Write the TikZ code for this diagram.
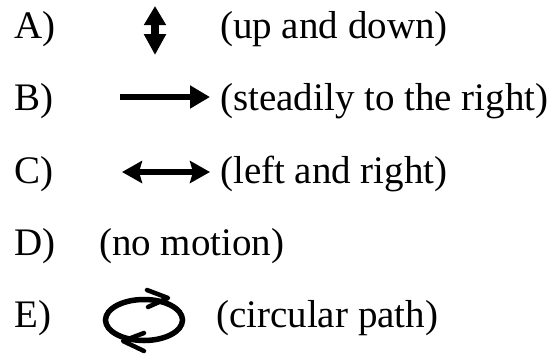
\documentclass[tikz,border=0pt]{standalone}
\usepackage{fontspec}
\setmainfont{Liberation Serif}
\usetikzlibrary{arrows.meta}
\begin{document}
\begin{tikzpicture}[x=1pt,y=-1pt,
  lbl/.style={anchor=base west,inner sep=0pt,font=\fontsize{39}{47}\selectfont},
  bigtip/.style={-{Triangle[length=20pt,width=22pt]}},
  motion/.style={line width=6.5pt},
  chev/.style={line width=4.5pt,line cap=round,line join=round}]
\useasboundingbox (0,0) rectangle (554,354);
% option letters
\node[lbl] (la) at (14,38) {A)};
\node[lbl] (lb) at (14,110) {B)};
\node[lbl] (lc) at (14,183) {C)};
\node[lbl] (ld) at (14,255) {D)};
\node[lbl] (le) at (14,327) {E)};
% descriptions
\node[lbl] (ta) at (220,38) {(up and down)};
\node[lbl] (tb) at (220,110) {(steadily to the right)};
\node[lbl] (tc) at (220,183) {(left and right)};
\node[lbl] (td) at (99,255) {(no motion)};
\node[lbl] (te) at (216,327) {(circular path)};
% A: up and down
\coordinate (au) at (155,6);
\coordinate (ad) at (155,55);
\draw[motion,line width=7.5pt,{Triangle[length=19pt,width=21pt]}-{Triangle[length=21pt,width=21pt]}] (au) -- (ad);
% B: steadily right
\coordinate (bs) at (120,97);
\coordinate (be) at (210,97);
\draw[motion,bigtip] (bs) -- (be);
% C: left and right
\coordinate (cs) at (122,172);
\coordinate (ce) at (210,172);
\draw[motion,{Stealth[length=20pt,width=22pt,inset=3pt]}-{Stealth[length=20pt,width=22pt,inset=3pt]}] (cs) -- (ce);
% E: circular path
\coordinate (ec) at (144,320);
\draw[line width=5.5pt] (ec) ellipse [x radius=38.5, y radius=20.5];
\draw[chev] (147,290) -- (168,298) -- (148,307);
\draw[chev] (144,333) -- (123,341) -- (144,351);
\end{tikzpicture}
\end{document}
